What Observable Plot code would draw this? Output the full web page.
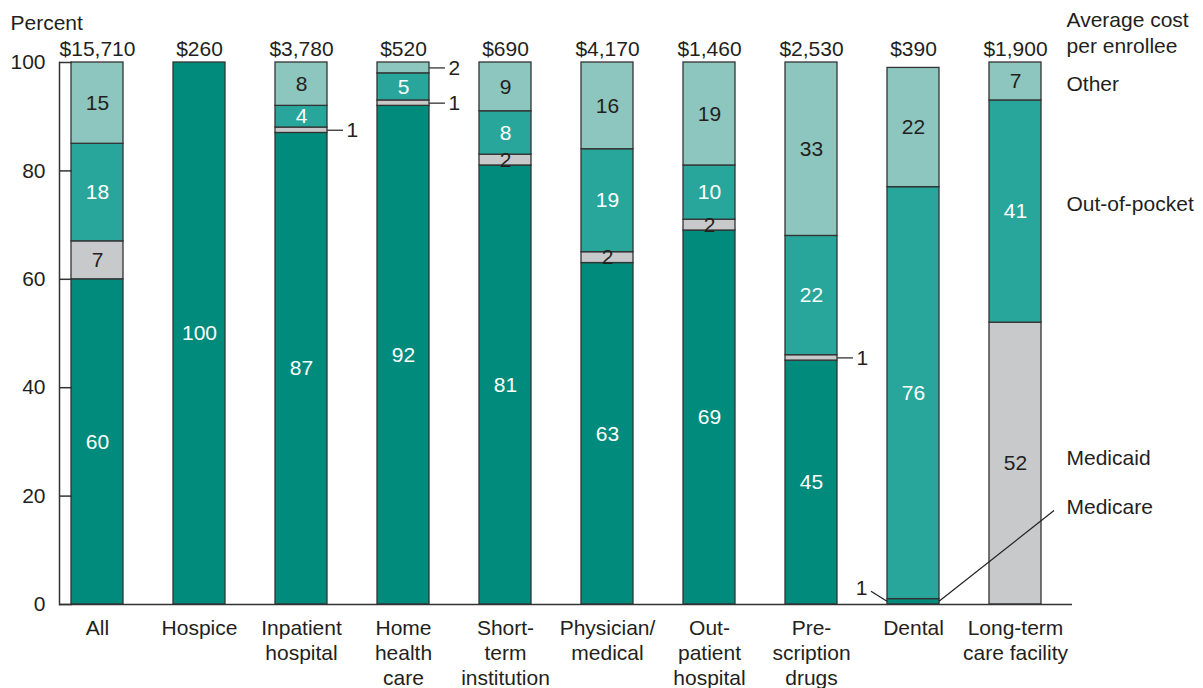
<!DOCTYPE html>
<html><head><meta charset="utf-8">
<script src="https://cdn.jsdelivr.net/npm/d3@7"></script>
<script src="https://cdn.jsdelivr.net/npm/@observablehq/plot@0.6"></script>
<style>
body{margin:0;background:#fff;}
#chart{width:1203px;height:688px;}
svg{font-family:"Liberation Sans", Arial, sans-serif;}
</style></head><body><div id="chart"></div>
<script>
const categories = ["All","Hospice","Inpatient\nhospital","Home\nhealth\ncare","Short-\nterm\ninstitution","Physician/\nmedical","Out-\npatient\nhospital","Pre-\nscription\ndrugs","Dental","Long-term\ncare facility"];
const costs = ["$15,710","$260","$3,780","$520","$690","$4,170","$1,460","$2,530","$390","$1,900"];
const series = ["Medicare","Medicaid","Out-of-pocket","Other"];
const medicare    = [60,100,87,92,81,63,69,45, 1, 0];
const medicaid    = [ 7,  0, 1, 1, 2, 2, 2, 1, 0,52];
const outOfPocket = [18,  0, 4, 5, 8,19,10,22,76,41];
const other       = [15,  0, 8, 2, 9,16,19,33,22, 7];
const yTicks = [0,20,40,60,80,100];
const colors = ["#008b7c","#c8c9cb","#29a69c","#8dc5bf"];
const whiteLabel = [true,false,true,false];
// segments whose value label sits outside the bar (category index, series index)
const calloutsRight = [[2,1],[3,3],[3,1],[7,1]];
const calloutsLeft = [[8,0]];
// right-hand key labels and their height (percent)
const keyLabels = ["Other","Out-of-pocket","Medicaid","Medicare"];
const keyAt = [96,73.8,27,18];

const W=1203,H=688,mL=59,mR=131,mT=62,mB=84;
const FS=21;
const xOpts = {type:"band", domain:categories, paddingInner:0.49, paddingOuter:0.209, align:0.286};
const bw = Plot.scale({x:{...xOpts, range:[mL, W-mR]}}).bandwidth;

const values=[medicare,medicaid,outOfPocket,other];
const segs=[];
categories.forEach((c,i)=>{
  let acc=0;
  series.forEach((s,j)=>{
    const v=values[j][i];
    const y1=acc, y2=Math.min(acc+v,100);
    acc+=v;
    if(v>0) segs.push({cat:c,i,j,series:s,value:v,y1,y2,mid:(y1+y2)/2});
  });
});
const isOut=(list,d)=>list.some(([i,j])=>i===d.i&&j===d.j);
const inner=segs.filter(d=>!isOut(calloutsRight,d)&&!isOut(calloutsLeft,d));
const right=segs.filter(d=>isOut(calloutsRight,d));
const left=segs.filter(d=>isOut(calloutsLeft,d));
const costData=categories.map((c,i)=>({cat:c,cost:costs[i]}));
const keyData=keyLabels.map((k,i)=>({k,y:keyAt[i]}));
const last=categories[categories.length-1];
const ink="#231f20";

const plot = Plot.plot({
  width:W,height:H,marginLeft:mL,marginRight:mR,marginTop:mT,marginBottom:mB,
  style:{color:ink,fontFamily:'"Liberation Sans", Arial, sans-serif',background:"#fff"},
  x:{...xOpts,label:null},
  y:{domain:[0,100],label:null},
  color:{domain:series,range:colors},
  marks:[
    Plot.barY(segs,{x:"cat",y1:"y1",y2:"y2",fill:"series",stroke:"#333",strokeWidth:1.3}),
    Plot.text(inner.filter(d=>whiteLabel[d.j]),{x:"cat",y:"mid",text:d=>String(d.value),fill:"#fff",fontSize:FS}),
    Plot.text(inner.filter(d=>!whiteLabel[d.j]),{x:"cat",y:"mid",text:d=>String(d.value),fill:ink,fontSize:FS}),
    Plot.tickY(right,{x:"cat",y:"mid",dx:bw,insetRight:bw-16,stroke:"#333",strokeWidth:1.3}),
    Plot.text(right,{x:"cat",y:"mid",text:d=>String(d.value),dx:bw/2+19,textAnchor:"start",fill:ink,fontSize:FS}),
    Plot.text(left,{x:"cat",y:"mid",text:d=>String(d.value),dx:-bw/2-20,dy:-14,textAnchor:"end",fill:ink,fontSize:FS}),
    Plot.text(costData,{x:"cat",y:100,text:"cost",dy:-7,lineAnchor:"bottom",fill:ink,fontSize:FS}),
    Plot.text(["Average cost\nper enrollee"],{x:()=>last,y:100,text:d=>d,dx:bw/2+25,dy:-30.5,textAnchor:"start",lineHeight:1.2,fill:ink,fontSize:FS}),
    Plot.text(keyData,{x:()=>last,y:"y",text:"k",dx:bw/2+25,textAnchor:"start",fill:ink,fontSize:FS}),
    Plot.text(["Percent"],{frameAnchor:"top-left",text:d=>d,dx:-49,dy:-47,textAnchor:"start",fill:ink,fontSize:FS}),
    Plot.ruleY([0],{stroke:"#333",strokeWidth:1.5}),
    Plot.frame({anchor:"left",stroke:"#333",strokeWidth:1.5}),
    Plot.axisY(yTicks,{tickSize:13,dx:13,tickPadding:14,fontSize:FS,stroke:"#333",strokeWidth:1.5,fill:ink,label:null}),
    Plot.axisX({tickSize:0,tickPadding:13,fontSize:FS,lineHeight:1.19,fill:ink,label:null})
  ]
});
document.getElementById("chart").appendChild(plot);

// leader lines for the Dental Medicare segment, drawn through Plot's scales
const sx=plot.scale("x"), sy=plot.scale("y");
const g=d3.select(plot).append("g").attr("stroke","#231f20").attr("stroke-width",1.2).attr("fill","none");
left.forEach(d=>{
  const x0=sx.apply(d.cat), y=sy.apply(d.mid);
  g.append("line").attr("x1",x0).attr("y1",y).attr("x2",x0-16).attr("y2",y-10);
});
const dMed=segs.find(d=>d.cat==="Dental"&&d.j===0);
const kMed=keyData.find(d=>d.k==="Medicare");
g.append("line")
  .attr("x1",sx.apply("Dental")+bw).attr("y1",sy.apply(dMed.mid))
  .attr("x2",sx.apply(last)+bw+13).attr("y2",sy.apply(kMed.y)+4);
</script></body></html>
